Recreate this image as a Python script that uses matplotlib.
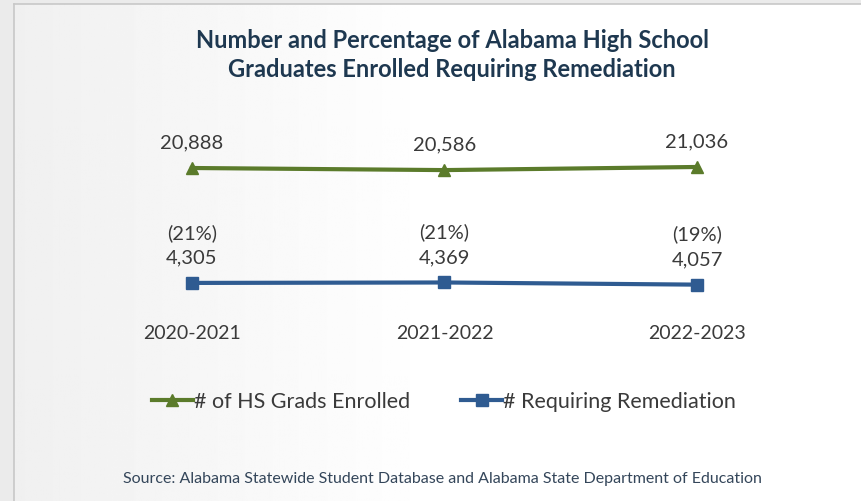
import numpy as np
import matplotlib
matplotlib.use("Agg")
import matplotlib.pyplot as plt
from matplotlib.lines import Line2D

# Data
years = ["2020-2021", "2021-2022", "2022-2023"]
enrolled = [20888, 20586, 21036]
remediation = [4305, 4369, 4057]
remediation_pct = [21, 21, 19]

GREEN = "#5b7b2b"
BLUE = "#2f5b91"
TEXT = "#3a3a3a"
NAVY = "#1e3850"

plt.rcParams["font.family"] = ["Lato", "DejaVu Sans"]

fig = plt.figure(figsize=(8.61, 5.01), dpi=100)
fig.patch.set_facecolor("#ebebeb")

# Background panel with a faint left-to-right gradient
bg = fig.add_axes([14 / 861, 0, 847 / 861, 497 / 501])
grad = np.linspace(0.94, 1.0, 256)
grad = np.clip(np.concatenate([grad, np.ones(256)]), 0, 1)
bg.imshow(np.tile(grad, (2, 1)), cmap="gray", vmin=0, vmax=1, aspect="auto",
          extent=[0, 1, 0, 1])
bg.set_xlim(0, 1)
bg.set_ylim(0, 1)
bg.set_xticks([])
bg.set_yticks([])
for side in ["right", "bottom"]:
    bg.spines[side].set_visible(False)
for side in ["left", "top"]:
    bg.spines[side].set_color("#c8c8c8")
    bg.spines[side].set_linewidth(1.2)

# Main plot
ax = fig.add_axes([100 / 861, (501 - 318) / 501, 690 / 861, 198 / 501])
ax.patch.set_alpha(0)
x = np.arange(len(years))
ax.plot(x, enrolled, color=GREEN, lw=3, marker="^", ms=8, zorder=3)
ax.plot(x, remediation, color=BLUE, lw=3, marker="s", ms=8.5, zorder=3)

ax.set_xlim(-0.364, 2.368)
ax.set_ylim(-757, 27814)
for s in ax.spines.values():
    s.set_visible(False)
ax.set_yticks([])
ax.set_xticks(x)
ax.set_xticklabels(years, fontsize=14, color=TEXT)
ax.tick_params(axis="x", length=0, pad=5)

for xi, v in zip(x, enrolled):
    ax.annotate(f"{v:,}", (xi, v), xytext=(0, 18), textcoords="offset points",
                ha="center", va="center", fontsize=14.5, color=TEXT)
for xi, v, p in zip(x, remediation, remediation_pct):
    ax.annotate(f"{v:,}", (xi, v), xytext=(0, 18), textcoords="offset points",
                ha="center", va="center", fontsize=14.5, color=TEXT)
    ax.annotate(f"({p}%)", (xi, v), xytext=(0, 36), textcoords="offset points",
                ha="center", va="center", fontsize=14.5, color=TEXT)

# Legend
handles = [
    Line2D([], [], color=GREEN, lw=3, marker="^", ms=8),
    Line2D([], [], color=BLUE, lw=3, marker="s", ms=8.5),
]
fig.legend(handles, ["# of HS Grads Enrolled", "# Requiring Remediation"],
           loc="center", bbox_to_anchor=(444 / 861, (501 - 402) / 501),
           ncol=2, frameon=False, fontsize=15.5, handlelength=1.9,
           handletextpad=0.05, columnspacing=2.4, labelcolor=TEXT)

# Title and source
fig.text(452 / 861, (501 - 55) / 501,
         "Number and Percentage of Alabama High School\nGraduates Enrolled Requiring Remediation",
         ha="center", va="center", fontsize=17, fontweight="bold", color=NAVY,
         linespacing=1.3)
fig.text(442 / 861, (501 - 479) / 501,
         "Source: Alabama Statewide Student Database and Alabama State Department of Education",
         ha="center", va="center", fontsize=11.5, color="#34465a")

fig.savefig("out.png", dpi=100, facecolor=fig.get_facecolor())
